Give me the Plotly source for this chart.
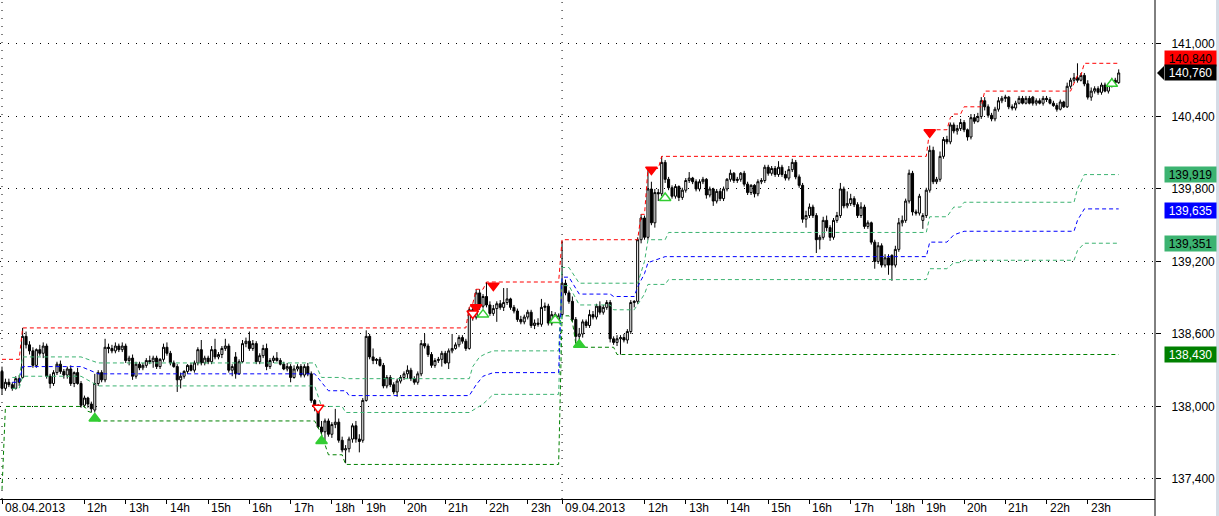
import plotly.graph_objects as go

# ---------------- data: 5-minute OHLC bars (08.04.2013 10:00 -> 09.04.2013 23:45) ----------------
opens = [
    138290,138150,138200,138180,138150,138230,138240,138580,138510,138460,138340,138470,
    138440,138500,138250,138190,138280,138350,138290,138260,138310,138190,138280,138190,
    138010,138070,138020,137970,138190,138280,138220,138490,138480,138460,138500,138470,
    138500,138380,138400,138250,138350,138320,138340,138380,138370,138400,138330,138390,
    138490,138440,138360,138330,138220,138250,138290,138340,138300,138360,138470,138360,
    138400,138370,138470,138410,138430,138480,138500,138300,138410,138270,138370,138520,
    138540,138480,138520,138370,138420,138480,138330,138380,138400,138380,138350,138310,
    138330,138240,138310,138330,138260,138330,138270,138050,138000,137830,137790,137880,
    137770,137850,137870,137720,137640,137650,137730,137840,137730,137720,138050,138580,
    138410,138380,138390,138340,138170,138240,138180,138120,138210,138240,138270,138300,
    138230,138200,138270,138520,138500,138430,138340,138380,138390,138440,138360,138460,
    138480,138510,138570,138540,138480,138800,138740,138940,138830,138910,138840,138770,
    138810,138850,138820,138860,138890,138820,138790,138720,138700,138740,138780,138670,
    138690,138680,138820,138830,138690,138760,138720,138760,139020,138940,138870,138720,
    138580,138600,138700,138670,138760,138740,138830,138780,138820,138860,138560,138530,
    138560,138570,138550,138620,138860,138870,139380,139560,139400,139800,139520,139770,
    139760,140020,139880,139810,139740,139820,139730,139790,139870,139890,139860,139800,
    139860,139880,139750,139800,139700,139780,139720,139800,139880,139930,139870,139880,
    139930,139840,139770,139830,139760,139860,139870,139980,139930,139970,139920,139980,
    139920,139890,139960,140020,139900,139830,139550,139580,139650,139580,139380,139400,
    139540,139480,139400,139540,139580,139800,139660,139680,139720,139670,139580,139650,
    139490,139520,139360,139200,139330,139170,139230,139250,139170,139300,139520,139540,
    139700,139930,139610,139600,139540,139580,139790,140120,139860,139880,140070,140210,
    140190,140330,140280,140300,140350,140290,140230,140390,140360,140400,140530,140480,
    140410,140380,140460,140530,140550,140560,140480,140470,140510,140550,140510,140550,
    140560,140510,140530,140510,140550,140540,140510,140490,140460,140520,140480,140650,
    140700,140720,140700,140740,140670,140560,140610,140630,140600,140660,140610,140660,
    140700,140680,
]
highs = [
    138330,138230,138230,138200,138250,138260,138650,138620,138540,138490,138480,138510,
    138530,138520,138270,138300,138370,138380,138310,138330,138340,138290,138320,138210,
    138090,138080,138040,138270,138300,138300,138560,138520,138510,138530,138520,138530,
    138520,138420,138430,138370,138370,138360,138400,138420,138420,138420,138400,138520,
    138530,138460,138380,138350,138280,138300,138350,138360,138380,138490,138550,138420,
    138420,138500,138560,138450,138500,138560,138520,138350,138450,138390,138550,138570,
    138620,138550,138540,138440,138510,138520,138400,138420,138450,138400,138370,138360,
    138350,138340,138350,138350,138350,138360,138290,138060,138020,137880,137900,137900,
    137870,137980,137900,137750,137680,137750,137860,137880,137770,138070,138630,138600,
    138480,138400,138410,138360,138260,138260,138200,138230,138260,138290,138340,138320,
    138250,138290,138550,138600,138520,138450,138400,138410,138460,138460,138480,138600,
    138530,138590,138590,138560,138820,138850,138970,138970,138930,139030,138870,138840,
    138870,138880,138980,138980,138900,138840,138810,138750,138760,138800,138800,138720,
    138730,138890,138860,138850,138790,138780,138770,139370,139050,138960,138910,138740,
    138650,138720,138720,138800,138790,138850,138870,138840,138880,138880,138580,138590,
    138590,138600,138640,138880,138880,139400,139590,139580,139970,139860,139800,139800,
    140070,140040,139900,139830,139840,139830,139810,139890,139940,139900,139880,139880,
    139900,139890,139820,139810,139800,139800,139820,139890,139960,139940,139900,139940,
    139950,139860,139840,139840,139880,139890,140000,140000,139990,139990,140030,140000,
    139950,139990,140050,140040,139920,139850,139620,139680,139670,139600,139420,139570,
    139580,139500,139560,139610,139850,139820,139780,139760,139740,139690,139690,139670,
    139540,139530,139380,139360,139350,139260,139260,139260,139330,139560,139580,139720,
    139960,139950,139630,139760,139600,139810,140160,140150,139900,140110,140230,140240,
    140350,140350,140330,140380,140370,140300,140420,140420,140430,140560,140560,140500,
    140430,140480,140560,140570,140580,140570,140500,140530,140570,140570,140570,140570,
    140570,140550,140550,140570,140570,140560,140530,140510,140540,140530,140680,140720,
    140760,140840,140760,140760,140700,140640,140650,140650,140680,140680,140680,140720,
    140720,140790,
]
lows = [
    138100,138130,138160,138130,138140,138170,138230,138480,138430,138320,138320,138420,
    138400,138230,138150,138170,138260,138270,138230,138230,138170,138160,138180,137990,
    137990,137990,137950,137950,138170,138200,138200,138440,138440,138440,138450,138450,
    138360,138340,138220,138230,138300,138300,138320,138350,138320,138310,138310,138370,
    138420,138340,138320,138120,138150,138230,138270,138290,138280,138340,138340,138340,
    138350,138350,138390,138390,138400,138460,138280,138250,138230,138260,138360,138490,
    138460,138460,138350,138350,138400,138300,138310,138360,138370,138340,138300,138290,
    138200,138230,138290,138240,138240,138250,138030,137960,137820,137770,137700,137750,
    137740,137820,137700,137620,137530,137620,137700,137700,137620,137700,138040,138390,
    138350,138350,138330,138150,138150,138160,138100,138080,138190,138220,138230,138210,
    138180,138180,138250,138480,138410,138320,138320,138360,138330,138350,138310,138440,
    138470,138490,138520,138460,138470,138710,138720,138800,138810,138820,138750,138750,
    138700,138800,138790,138840,138800,138770,138700,138680,138680,138720,138650,138640,
    138660,138660,138790,138670,138670,138700,138690,138750,138920,138850,138700,138520,
    138500,138570,138650,138650,138720,138720,138760,138760,138800,138530,138510,138500,
    138430,138530,138520,138600,138820,138850,139350,139380,139380,139500,139480,139700,
    139740,139850,139790,139720,139720,139700,139710,139770,139850,139840,139780,139780,
    139840,139720,139730,139660,139680,139700,139700,139780,139860,139850,139850,139860,
    139820,139750,139750,139730,139740,139840,139850,139910,139910,139900,139900,139900,
    139870,139870,139940,139880,139810,139520,139480,139560,139560,139270,139300,139380,
    139450,139370,139380,139520,139560,139640,139640,139660,139650,139560,139560,139470,
    139470,139340,139140,139180,139150,139150,139090,139040,139150,139280,139490,139520,
    139680,139580,139580,139580,139470,139560,139770,139840,139840,139860,140050,140170,
    140170,140260,140250,140280,140270,140200,140210,140340,140350,140380,140450,140390,
    140360,140360,140440,140510,140520,140460,140450,140450,140500,140500,140500,140500,
    140490,140490,140500,140490,140520,140500,140480,140440,140450,140470,140470,140630,
    140680,140680,140690,140650,140540,140530,140590,140580,140580,140600,140590,140640,
    140660,140670,
]
closes = [
    138150,138200,138180,138150,138230,138200,138580,138510,138460,138340,138470,138440,
    138500,138250,138190,138280,138350,138290,138260,138310,138190,138280,138190,138010,
    138070,138020,137980,138190,138280,138220,138490,138480,138460,138500,138470,138500,
    138380,138400,138250,138350,138320,138340,138380,138370,138400,138330,138390,138490,
    138440,138360,138330,138220,138250,138290,138340,138300,138360,138470,138360,138400,
    138370,138470,138410,138430,138480,138500,138300,138330,138270,138370,138520,138540,
    138480,138520,138370,138420,138480,138330,138380,138400,138380,138350,138310,138330,
    138240,138310,138330,138260,138330,138270,138050,138000,137830,137790,137880,137770,
    137850,137870,137720,137640,137650,137730,137840,137730,137710,138050,138580,138410,
    138380,138390,138340,138170,138240,138180,138120,138210,138240,138270,138300,138230,
    138200,138270,138520,138500,138430,138340,138380,138390,138440,138360,138460,138480,
    138510,138570,138540,138480,138800,138740,138940,138830,138910,138840,138770,138810,
    138850,138820,138860,138890,138820,138790,138720,138700,138740,138780,138670,138690,
    138680,138820,138830,138690,138760,138720,138750,139020,138940,138870,138720,138580,
    138600,138700,138670,138760,138740,138830,138780,138820,138860,138560,138530,138560,
    138570,138550,138620,138860,138870,139380,139560,139400,139800,139520,139770,139760,
    140020,139880,139810,139740,139820,139730,139790,139870,139890,139860,139800,139860,
    139880,139750,139800,139700,139780,139720,139800,139880,139930,139870,139880,139930,
    139840,139770,139830,139760,139860,139870,139980,139930,139970,139920,139980,139920,
    139890,139960,140020,139900,139830,139550,139580,139650,139580,139380,139400,139540,
    139480,139400,139540,139580,139800,139660,139680,139720,139670,139580,139650,139490,
    139520,139360,139200,139330,139170,139230,139170,139170,139300,139520,139540,139700,
    139930,139610,139600,139740,139580,139790,140120,139860,139880,140070,140210,140190,
    140330,140280,140300,140350,140290,140230,140390,140360,140400,140530,140480,140410,
    140380,140460,140530,140550,140560,140480,140470,140510,140550,140510,140550,140510,
    140510,140530,140510,140550,140540,140510,140490,140460,140520,140480,140650,140700,
    140720,140700,140740,140670,140560,140610,140630,140600,140660,140610,140660,140700,
    140680,140760,
]

# time axis: bar index of each labelled hour
tick_bars = [0, 24, 36, 48, 60, 72, 84, 96, 105, 117, 129, 141, 153,
             163, 187, 199, 211, 223, 235, 247, 259, 268, 280, 292, 304, 316]
tick_labels = ["08.04.2013", "12h", "13h", "14h", "15h", "16h", "17h", "18h", "19h", "20h", "21h", "22h", "23h",
               "09.04.2013", "12h", "13h", "14h", "15h", "16h", "17h", "18h", "19h", "20h", "21h", "22h", "23h"]
day_start_bars = [0, 163]

price_ticks = [137400, 138000, 138600, 139200, 139800, 140400, 141000]

# indicator levels (bar index, price)
res_bars = [0, 5, 6, 135, 136, 137, 138, 140, 141, 162, 163, 185, 186, 187, 188, 191, 192, 269, 270, 275,
            276, 277, 279, 280, 285, 286, 311, 312, 313, 314, 315, 325]
res_vals = [138390, 138390, 138650, 138650, 138820, 138850, 138970, 138970, 139030, 139030, 139380, 139380,
            139590, 139590, 139970, 139970, 140070, 140070, 140290, 140290, 140390, 140420, 140420, 140480,
            140480, 140610, 140610, 140680, 140740, 140740, 140840, 140840]

sup_bars = [0, 1, 24, 25, 27, 28, 91, 92, 93, 95, 99, 100, 162, 163, 165, 166, 167, 168, 178, 179, 325]
sup_vals = [137310, 138000, 138000, 137960, 137940, 137880, 137880, 137830, 137770, 137600, 137600, 137520,
            137520, 138750, 138750, 138700, 138520, 138490, 138490, 138430, 138430]

mid_bars = [3, 5, 6, 23, 28, 91, 95, 100, 101, 136, 138, 140, 143, 162, 163, 165, 168, 177, 178, 184, 185,
            187, 188, 193, 269, 270, 275, 276, 277, 279, 280, 312, 313, 315, 325]
mid_vals = [138200, 138200, 138330, 138330, 138270, 138270, 138130, 138130, 138090, 138090, 138180, 138250,
            138280, 138280, 139070, 139070, 138930, 138930, 138910, 138910, 138990, 139100, 139190, 139240,
            139240, 139360, 139360, 139390, 139420, 139440, 139450, 139450, 139540, 139635, 139635]

up_bars = [3, 5, 6, 23, 28, 91, 93, 99, 100, 136, 137, 139, 141, 143, 162, 163, 165, 168, 184, 185, 187,
           188, 193, 194, 269, 270, 275, 277, 279, 280, 312, 313, 315, 325]
up_vals = [138240, 138240, 138410, 138410, 138360, 138360, 138240, 138240, 138230, 138230, 138330, 138410,
           138440, 138460, 138460, 139150, 139150, 139020, 139020, 139020, 139200, 139380, 139380, 139440,
           139440, 139570, 139570, 139650, 139650, 139690, 139690, 139800, 139919, 139919]

lo_bars = [3, 5, 6, 23, 28, 91, 93, 99, 100, 136, 140, 143, 162, 163, 165, 168, 177, 178, 184, 185, 187,
           188, 193, 194, 269, 270, 275, 277, 279, 280, 312, 313, 315, 325]
lo_vals = [138150, 138150, 138250, 138250, 138170, 138170, 138000, 138000, 137950, 137950, 138020, 138100,
           138100, 139000, 139000, 138840, 138840, 138800, 138800, 138840, 138930, 139010, 139010, 139050,
           139050, 139140, 139140, 139190, 139190, 139210, 139210, 139290, 139351, 139351]

# signals (bar index, price)
sell_bars = [138, 143, 189, 270]
sell_vals = [138820, 139000, 139960, 140270]
sell_open_bars = [92, 137]
sell_open_vals = [137990, 138770]
buy_bars = [27, 93, 168]
buy_vals = [137900, 137715, 138510]
buy_open_bars = [140, 161, 193, 323]
buy_open_vals = [138760, 138716, 139725, 140670]

# right-hand price labels
label_vals = [140840, 140760, 139919, 139635, 139351, 138430]
label_bg = ["#FF0000", "#000000", "#3CB371", "#0000FF", "#3CB371", "#008000"]
label_fg = ["#000000", "#FFFFFF", "#000000", "#FFFFFF", "#000000", "#FFFFFF"]
label_nudge = [5, 0, 0, -2, 0, 0]   # px, keeps stacked labels apart

# ---------------- figure ----------------
W, H = 1219, 516
ML, MR, MT, MB = 0, 64, 0, 17
plot_w, plot_h = W - ML - MR, H - MT - MB
bar_px = 3.436
x_min = -2 / bar_px
x_max = x_min + plot_w / bar_px
y_min, y_max = 137234, 141364
price_per_px = (y_max - y_min) / plot_h

FONT = "Liberation Sans, Arial, sans-serif"
DASH = "4px,3px"

fig = go.Figure()

def level(xs, ys, color):
    fig.add_trace(go.Scatter(x=xs, y=ys, mode="lines", hoverinfo="skip", showlegend=False,
                             line=dict(color=color, width=1, dash=DASH)))

level(sup_bars, sup_vals, "#008000")
level(up_bars, up_vals, "#3CB371")
level(lo_bars, lo_vals, "#3CB371")
level(mid_bars, mid_vals, "#0000FF")
level(res_bars, res_vals, "#FF0000")

fig.add_trace(go.Candlestick(
    x=list(range(len(closes))), open=opens, high=highs, low=lows, close=closes,
    increasing=dict(line=dict(color="black", width=1), fillcolor="white"),
    decreasing=dict(line=dict(color="black", width=1), fillcolor="black"),
    whiskerwidth=0, showlegend=False, hoverinfo="skip"))

def marks(xs, ys, symbol, fill, edge):
    fig.add_trace(go.Scatter(x=xs, y=ys, mode="markers", hoverinfo="skip", showlegend=False,
                             marker=dict(symbol=symbol, size=10, color=fill,
                                         line=dict(color=edge, width=1.5))))

marks(sell_bars, sell_vals, "triangle-down", "#FF0000", "#FF0000")
marks(sell_open_bars, sell_open_vals, "triangle-down", "#FFFFFF", "#FF0000")
marks(buy_bars, buy_vals, "triangle-up", "#32CD32", "#32CD32")
marks(buy_open_bars, buy_open_vals, "triangle-up", "#FFFFFF", "#32CD32")

annotations = []
for b, t in zip(tick_bars, tick_labels):
    annotations.append(dict(x=b, y=0, xref="x", yref="paper", text=t, showarrow=False,
                            xanchor="left", yanchor="top", xshift=1, yshift=0,
                            font=dict(family=FONT, size=12, color="black")))
for v, bg, fg, dy in zip(label_vals, label_bg, label_fg, label_nudge):
    annotations.append(dict(x=1, y=v, xref="paper", yref="y", text=f"{v:,}", showarrow=False,
                            xanchor="left", yanchor="middle", xshift=9, yshift=dy, bgcolor=bg,
                            width=49, height=13, borderpad=1, align="center",
                            font=dict(family=FONT, size=12, color=fg)))

shapes = []
for b in day_start_bars:
    shapes.append(dict(type="line", xref="x", yref="paper", x0=b, x1=b, y0=0, y1=1,
                       line=dict(color="black", width=1, dash="1px,7px"), layer="below"))
# axis line running down to the window bottom
shapes.append(dict(type="line", xref="paper", yref="paper", x0=1, x1=1, y0=-MB / plot_h, y1=1,
                   line=dict(color="black", width=1)))
# pointer of the current-price label
cur = label_vals[1]
ax0 = 1 + 2 / plot_w
ax1 = 1 + 9 / plot_w
shapes.append(dict(type="path", xref="paper", yref="y",
                   path=f"M {ax0},{cur} L {ax1},{cur + 7 * price_per_px} L {ax1},{cur - 7 * price_per_px} Z",
                   fillcolor="black", line=dict(color="black", width=0)))
# window edge strip
shapes.append(dict(type="rect", xref="paper", yref="paper", x0=1 + 61 / plot_w, x1=1 + 64 / plot_w,
                   y0=-MB / plot_h, y1=1, fillcolor="#d5dce6", line=dict(width=0)))

fig.update_layout(
    width=W, height=H, margin=dict(l=ML, r=MR, t=MT, b=MB, pad=0),
    paper_bgcolor="white", plot_bgcolor="white",
    font=dict(family=FONT, size=12, color="black"),
    showlegend=False, annotations=annotations, shapes=shapes, boxgap=0.15,
    xaxis=dict(range=[x_min, x_max], rangeslider=dict(visible=False), tickmode="array",
               tickvals=tick_bars, showticklabels=False, ticks="outside", ticklen=4,
               tickcolor="black", tickwidth=1, showline=True, linecolor="black", linewidth=1,
               showgrid=False, zeroline=False, fixedrange=True),
    yaxis=dict(range=[y_min, y_max], side="right", tickmode="array", tickvals=price_ticks,
               tickformat=",d", ticks="outside", ticklen=5, tickcolor="black",
               showline=False, showgrid=True, gridcolor="black", gridwidth=1,
               griddash="1px,7px", zeroline=False, fixedrange=True,
               ticklabelstandoff=8, automargin=False,
               tickfont=dict(family=FONT, size=12, color="black")),
)

fig.write_html("out.html", config={"displayModeBar": False},
               post_script="document.body.style.margin='0px';document.body.style.overflow='hidden';")
